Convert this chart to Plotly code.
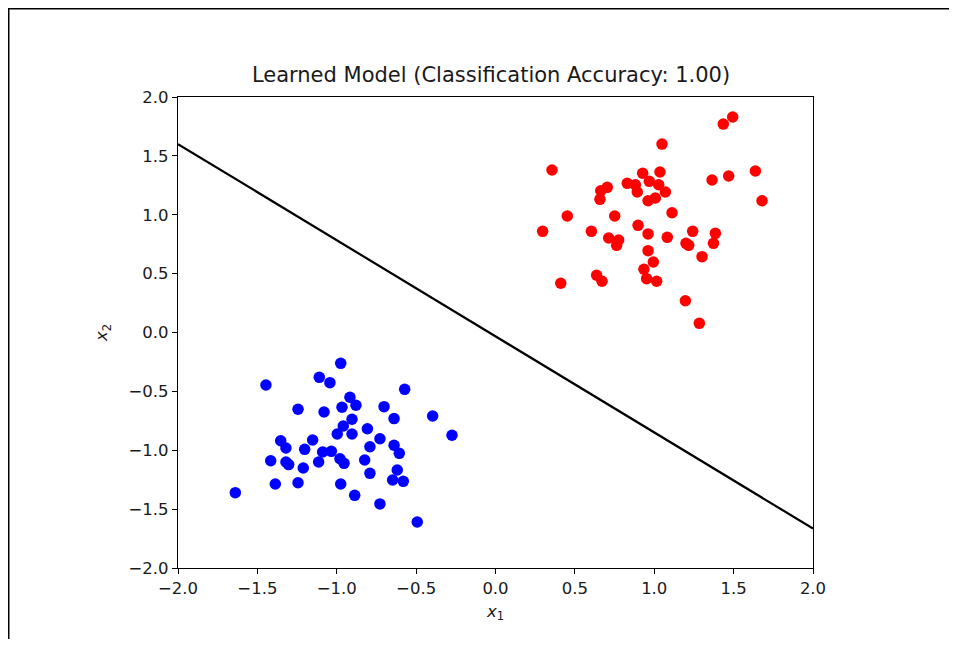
import plotly.graph_objects as go

# Class +1 (red) points
red_x = [1.494, 1.435, 1.049, 0.356, 1.036, 1.637, 0.927, 1.469, 1.364, 0.704, 0.663, 0.830,
         0.881, 0.893, 0.969, 1.028, 1.070, 1.007, 0.961, 0.658, 1.679, 0.452, 0.751, 1.112,
         0.297, 0.604, 0.898, 0.961, 1.082, 1.242, 1.385, 1.373, 1.200, 1.217, 0.713, 0.776,
         0.763, 0.961, 1.301, 0.994, 0.935, 0.637, 0.671, 0.411, 0.952, 1.015, 1.196, 1.284]
red_y = [1.830, 1.770, 1.600, 1.380, 1.363, 1.372, 1.352, 1.329, 1.295, 1.233, 1.204, 1.267,
         1.255, 1.193, 1.284, 1.255, 1.193, 1.142, 1.119, 1.131, 1.119, 0.989, 0.989, 1.017,
         0.859, 0.859, 0.910, 0.837, 0.808, 0.859, 0.842, 0.757, 0.757, 0.740, 0.803, 0.786,
         0.740, 0.695, 0.644, 0.599, 0.537, 0.486, 0.435, 0.418, 0.457, 0.435, 0.270, 0.078]

# Class -1 (blue) points
blue_x = [-0.975, -1.446, -1.110, -1.043, -0.572, -0.917, -0.879, -0.967, -1.244, -1.080,
          -0.702, -0.639, -0.396, -0.904, -0.959, -0.807, -0.997, -0.904, -0.274, -0.728,
          -1.152, -1.353, -1.320, -1.202, -0.791, -0.639, -0.606, -1.089, -1.034, -1.114,
          -0.980, -0.954, -0.824, -1.416, -1.320, -1.303, -1.211, -0.791, -0.619, -0.648,
          -0.581, -1.387, -1.244, -0.975, -1.639, -0.887, -0.728, -0.493]
blue_y = [-0.262, -0.446, -0.381, -0.426, -0.483, -0.550, -0.618, -0.635, -0.652, -0.675,
          -0.630, -0.731, -0.709, -0.737, -0.794, -0.817, -0.862, -0.862, -0.873, -0.902,
          -0.913, -0.919, -0.981, -0.992, -0.970, -0.958, -1.026, -1.015, -1.009, -1.100,
          -1.072, -1.111, -1.083, -1.089, -1.100, -1.122, -1.151, -1.196, -1.168, -1.253,
          -1.264, -1.287, -1.276, -1.287, -1.360, -1.383, -1.456, -1.609]

# Learned decision boundary
line_x = [-2.0, 2.0]
line_y = [1.60, -1.665]

tick_vals = [-2.0, -1.5, -1.0, -0.5, 0.0, 0.5, 1.0, 1.5, 2.0]
tick_text = ["\u22122.0", "\u22121.5", "\u22121.0", "\u22120.5", "0.0", "0.5", "1.0", "1.5", "2.0"]

# page has an 8px body margin; figure coordinates = page coordinates - 8
W, H = 941, 631
L, R, T, B = 170, 805, 89, 560

fig = go.Figure()
fig.add_trace(go.Scatter(x=line_x, y=line_y, mode="lines",
                         line=dict(color="black", width=2.2), showlegend=False, hoverinfo="skip"))
fig.add_trace(go.Scatter(x=red_x, y=red_y, mode="markers",
                         marker=dict(color="red", size=11.5), showlegend=False))
fig.add_trace(go.Scatter(x=blue_x, y=blue_y, mode="markers",
                         marker=dict(color="blue", size=11.5), showlegend=False))

axis_common = dict(range=[-2, 2], tickvals=tick_vals, ticktext=tick_text,
                   ticks="outside", ticklen=5, tickwidth=1.2, tickcolor="black",
                   showline=True, linecolor="black", linewidth=1.2, mirror=True,
                   showgrid=False, zeroline=False,
                   tickfont=dict(family="DejaVu Sans", size=16.5, color="#1a1a1a"))

fig.update_layout(
    width=W, height=H,
    margin=dict(l=L, r=W - R, t=T, b=H - B, autoexpand=False),
    paper_bgcolor="white", plot_bgcolor="white",
    title=dict(text="Learned Model (Classification Accuracy: 1.00)",
               x=483 / W, xanchor="center", y=1 - 67 / H, yanchor="middle",
               font=dict(family="DejaVu Sans", size=21, color="#1a1a1a")),
    xaxis=dict(**axis_common,
               title=dict(text="<i>x</i><sub>1</sub>", standoff=8,
                          font=dict(family="DejaVu Sans", size=16.5, color="#1a1a1a"))),
    yaxis=dict(**axis_common,
               title=dict(text="<i>x</i><sub>2</sub>", standoff=16,
                          font=dict(family="DejaVu Sans", size=16.5, color="#1a1a1a"))),
)

# Figure frame lines (top and left edges)
def px_to_paper_x(px):
    return (px - L) / (R - L)

def px_to_paper_y(py):
    return (B - py) / (B - T)

fig.add_shape(type="line", xref="paper", yref="paper",
              x0=px_to_paper_x(0), y0=px_to_paper_y(0.75), x1=px_to_paper_x(W), y1=px_to_paper_y(0.75),
              line=dict(color="black", width=1.5))
fig.add_shape(type="line", xref="paper", yref="paper",
              x0=px_to_paper_x(0.75), y0=px_to_paper_y(0), x1=px_to_paper_x(0.75), y1=px_to_paper_y(H),
              line=dict(color="black", width=1.5))

fig.write_html("out.html")
